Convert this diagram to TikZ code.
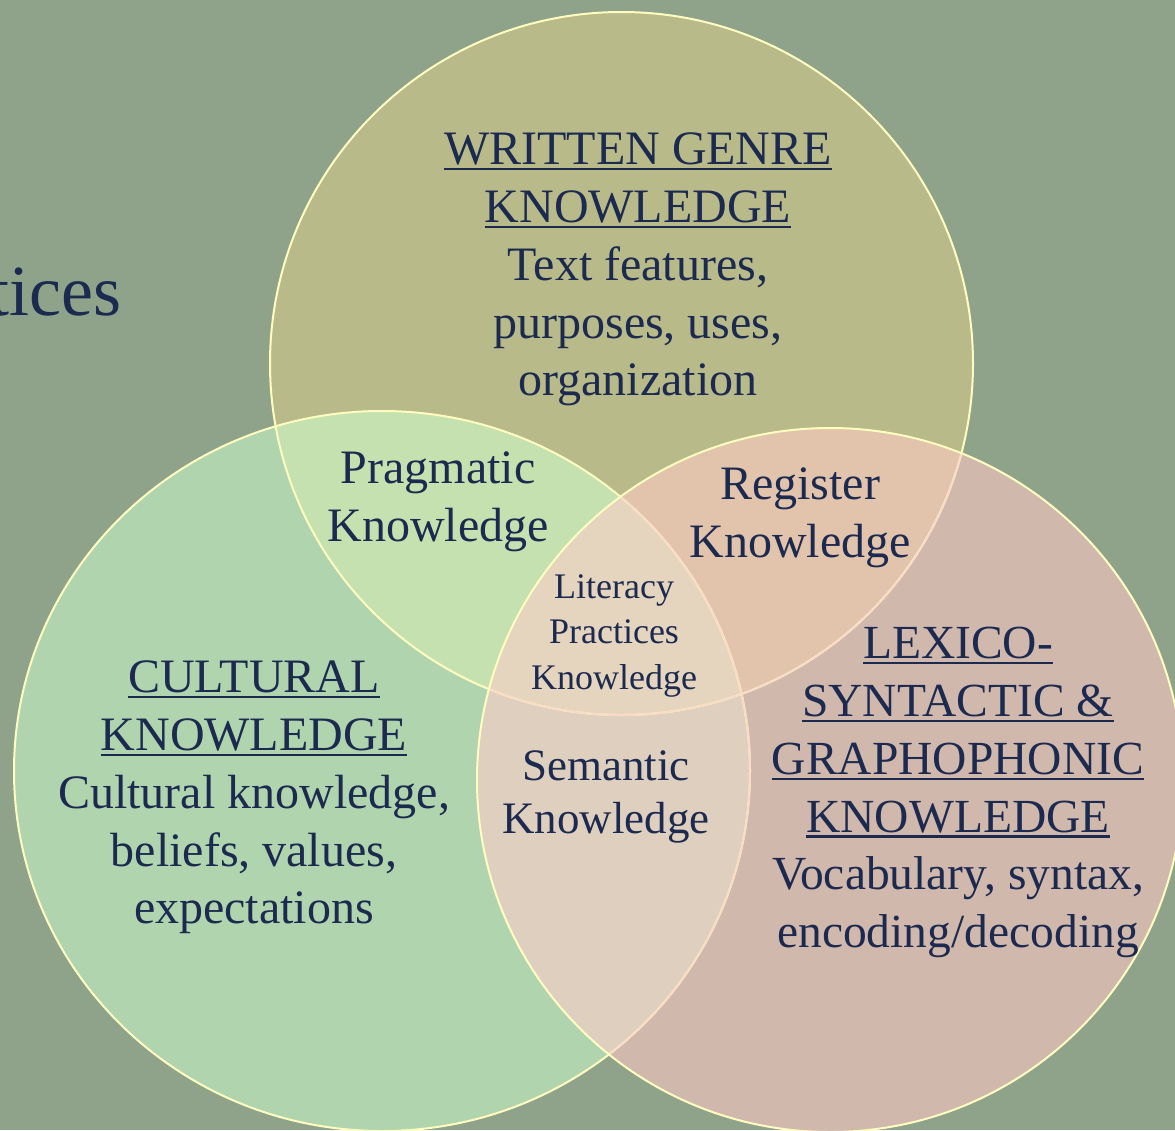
\documentclass[tikz,border=0pt]{standalone}
\usepackage{fontspec}
\setmainfont{Liberation Serif}
\definecolor{bgc}{HTML}{8FA38B}
\definecolor{cT}{HTML}{B8BB89}
\definecolor{cL}{HTML}{B0D5AE}
\definecolor{cR}{HTML}{D1B8AD}
\definecolor{cTL}{HTML}{C5E1AF}
\definecolor{cTR}{HTML}{E2C4AD}
\definecolor{cLR}{HTML}{DECFBF}
\definecolor{cC}{HTML}{E6D5BE}
\definecolor{edgeY}{HTML}{FFFCC0}
\definecolor{edgeP}{HTML}{F8DCC6}
\definecolor{ink}{HTML}{1C2A50}
\newcommand\myul[1]{\leavevmode\setbox0=\hbox{#1}\rlap{\rule[-5.5pt]{\wd0}{2.2pt}}\box0}
\tikzset{
  txt/.style={text=ink, inner sep=0pt, anchor=north, align=center},
  big/.style={font=\fontsize{48}{57.7}\selectfont},
  ring/.style={line width=2pt}
}
\begin{document}
\begin{tikzpicture}[x=1pt,y=-1pt]
\useasboundingbox (0,0) rectangle (1175,1130);
\clip (0,0) rectangle (1175,1130);
\fill[bgc] (0,0) rectangle (1175,1130);
% region fills
\fill[cT] (621.5,363.5) circle [radius=351.5];
\fill[cL] (382,771) ellipse [x radius=368, y radius=360];
\fill[cR] (830,780) ellipse [x radius=353, y radius=352];
\begin{scope}
  \clip (621.5,363.5) circle [radius=351.5];
  \fill[cTL] (382,771) ellipse [x radius=368, y radius=360];
  \fill[cTR] (830,780) ellipse [x radius=353, y radius=352];
\end{scope}
\begin{scope}
  \clip (382,771) ellipse [x radius=368, y radius=360];
  \fill[cLR] (830,780) ellipse [x radius=353, y radius=352];
\end{scope}
\begin{scope}
  \clip (621.5,363.5) circle [radius=351.5];
  \clip (382,771) ellipse [x radius=368, y radius=360];
  \fill[cC] (830,780) ellipse [x radius=353, y radius=352];
\end{scope}
% outlines
\draw[ring, edgeY] (621.5,363.5) circle [radius=351.5];
\draw[ring, edgeY] (382,771) ellipse [x radius=368, y radius=360];
\begin{scope}
  \clip (830,780) ellipse [x radius=353, y radius=352];
  \draw[ring, edgeP] (621.5,363.5) circle [radius=351.5];
  \draw[ring, edgeP] (382,771) ellipse [x radius=368, y radius=360];
\end{scope}
\draw[ring, edgeY] (830,780) ellipse [x radius=353, y radius=352];
% texts
\node[text=ink, inner sep=0pt, anchor=base east, font=\fontsize{72}{84}\selectfont] (title) at (122,315) {tices};
\node[txt, big] (written) at (638,133) {\myul{WRITTEN GENRE}\\ \myul{KNOWLEDGE}\\ Text features,\\ purposes, uses,\\ organization};
\node[txt, big] (prag) at (438,452) {Pragmatic\\ Knowledge};
\node[txt, big] (reg) at (800,468) {Register\\ Knowledge};
\node[txt, font=\fontsize{36}{45.5}\selectfont] (lit) at (614,574) {Literacy\\ Practices\\ Knowledge};
\node[txt, big] (cult) at (254,661) {\myul{CULTURAL}\\ \myul{KNOWLEDGE}\\ Cultural knowledge,\\ beliefs, values,\\ expectations};
\node[txt, font=\fontsize{45}{53.5}\selectfont] (sem) at (606,750) {Semantic\\ Knowledge};
\node[txt, font=\fontsize{47.5}{57.8}\selectfont] (lex) at (958,627) {\myul{LEXICO-}\\ \myul{SYNTACTIC \&}\\ \myul{GRAPHOPHONIC}\\ \myul{KNOWLEDGE}\\ Vocabulary, syntax,\\ encoding/decoding};
\end{tikzpicture}
\end{document}
